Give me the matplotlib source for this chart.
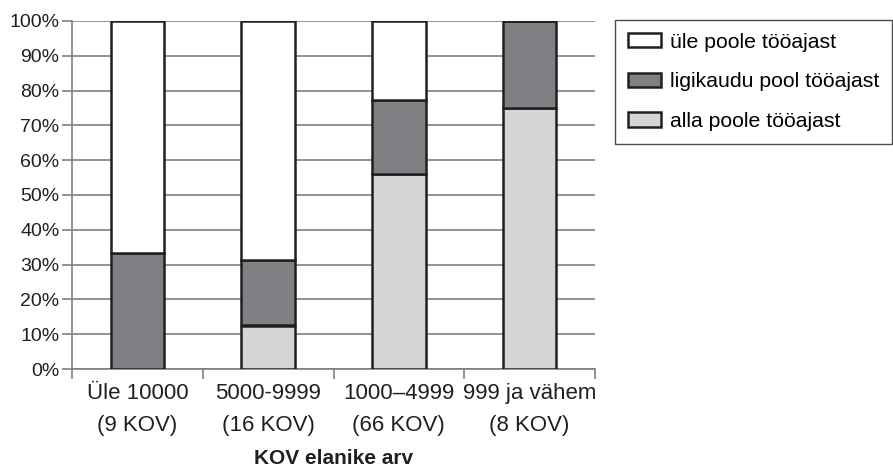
import matplotlib
matplotlib.use("Agg")
import matplotlib.pyplot as plt
import numpy as np

plt.rcParams['font.family'] = ['Liberation Sans', 'DejaVu Sans']

categories = ["Üle 10000\n(9 KOV)", "5000-9999\n(16 KOV)", "1000–4999\n(66 KOV)", "999 ja vähem\n(8 KOV)"]
series_names = ["üle poole tööajast", "ligikaudu pool tööajast", "alla poole tööajast"]
alla = [0.0, 12.5, 56.1, 75.0]
ligikaudu = [33.3, 18.75, 21.2, 25.0]
yle = [66.7, 68.75, 22.7, 0.0]

colors = {"alla": "#d4d5d7", "ligikaudu": "#7f8083", "yle": "#ffffff"}
edge = "#231f20"
text_color = "#231f20"

fig = plt.figure(figsize=(8.93, 4.69), dpi=100)
ax = fig.add_axes([72 / 893, 1 - 369 / 469, 523 / 893, 348 / 469])

x = np.arange(len(categories))
w = 0.41
b1 = ax.bar(x, alla, w, color=colors["alla"], edgecolor=edge, linewidth=1.8, zorder=3)
b2 = ax.bar(x, ligikaudu, w, bottom=alla, color=colors["ligikaudu"], edgecolor=edge, linewidth=1.8, zorder=3)
bottom3 = np.array(alla) + np.array(ligikaudu)
b3 = ax.bar(x, yle, w, bottom=bottom3, color=colors["yle"], edgecolor=edge, linewidth=1.8, zorder=3)

ax.set_xlim(-0.5, len(categories) - 0.5)
ax.set_ylim(0, 100)
ax.set_yticks(np.arange(0, 101, 10))
ax.set_yticklabels([f"{v}%" for v in range(0, 101, 10)], fontsize=14, color=text_color)
ax.yaxis.grid(True, color="#808080", linewidth=1.2, zorder=0)
ax.tick_params(axis="y", length=7, width=1.2, color="#808080", pad=2)

ax.set_xticks(x)
ax.set_xticklabels(categories, fontsize=16, color=text_color, linespacing=1.7)
ax.set_xticks(np.arange(-0.5, len(categories)), minor=True)
ax.tick_params(axis="x", which="major", length=0, pad=10)
ax.tick_params(axis="x", which="minor", length=7, width=1.2, color="#808080")

# axis title sits near the bottom edge of the figure
fig.text(334 / 893, 5 / 469, "KOV elanike arv", fontsize=15, fontweight="bold",
         color=text_color, ha="center", va="baseline")

for side in ["top", "right"]:
    ax.spines[side].set_visible(False)
for side in ["left", "bottom"]:
    ax.spines[side].set_color("#808080")
    ax.spines[side].set_linewidth(1.2)

leg = fig.legend([b3, b2, b1], series_names, loc="upper left",
                 bbox_to_anchor=(615 / 893, 1 - 20 / 469), fontsize=15.3,
                 frameon=True, fancybox=False, edgecolor=edge,
                 handlelength=1.55, handleheight=0.65, labelspacing=0.97,
                 borderpad=0.6, handletextpad=0.45, borderaxespad=0)
leg.get_frame().set_linewidth(1.0)

fig.savefig("out.png", dpi=100)
